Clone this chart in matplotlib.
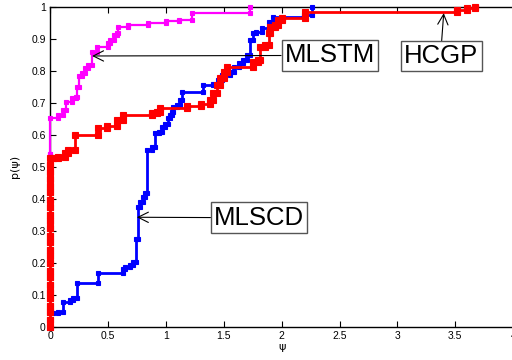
import matplotlib
matplotlib.use("Agg")
import matplotlib.pyplot as plt

# Step curves (x where the jump happens, level after the jump)
mlstm_x = [0, 0, 0.072, 0.115, 0.138, 0.193, 0.225, 0.23, 0.25, 0.274, 0.30,
           0.33, 0.36, 0.41, 0.50, 0.52, 0.55, 0.576, 0.59, 0.677, 0.85, 1.0,
           1.11, 1.225, 1.73]
mlstm_y = [0.54, 0.651, 0.66, 0.677, 0.703, 0.714, 0.719, 0.75, 0.783, 0.794,
           0.807, 0.818, 0.859, 0.875, 0.886, 0.896, 0.911, 0.917, 0.937, 0.944,
           0.95, 0.956, 0.96, 0.979, 1.0]

mlscd_x = [0.03, 0.07, 0.115, 0.173, 0.20, 0.236, 0.418, 0.634, 0.65, 0.69,
           0.715, 0.743, 0.763, 0.78, 0.80, 0.82, 0.836, 0.88, 0.91, 0.945,
           0.965, 0.994, 1.02, 1.035, 1.05, 1.06, 1.095, 1.12, 1.14, 1.325,
           1.41, 1.45, 1.485, 1.556, 1.585, 1.63, 1.67, 1.70, 1.73, 1.757,
           1.775, 1.83, 1.89, 1.93, 2.19, 2.26]
mlscd_y = [0.042, 0.047, 0.078, 0.083, 0.089, 0.136, 0.167, 0.179, 0.1875,
           0.193, 0.203, 0.273, 0.375, 0.39, 0.406, 0.417, 0.552, 0.5625,
           0.604, 0.609, 0.625, 0.635, 0.651, 0.661, 0.672, 0.6875, 0.693,
           0.708, 0.734, 0.755, 0.76, 0.77, 0.786, 0.797, 0.813, 0.823, 0.833,
           0.849, 0.896, 0.917, 0.922, 0.932, 0.953, 0.969, 0.975, 1.0]

hcgp_x = [0, 0, 0, 0, 0, 0, 0, 0, 0, 0, 0, 0, 0, 0, 0, 0, 0, 0, 0, 0, 0, 0,
          0, 0, 0, 0.03, 0.072, 0.13, 0.158, 0.216, 0.417, 0.49, 0.576, 0.634,
          0.88, 0.92, 0.95, 1.18, 1.30, 1.38, 1.41, 1.44, 1.47, 1.50, 1.527,
          1.757, 1.80, 1.815, 1.86, 1.89, 1.90, 1.945, 1.97, 2.0, 2.2, 3.515,
          3.6, 3.67]
hcgp_y = [0.0, 0.02, 0.045, 0.065, 0.09, 0.11, 0.13, 0.155, 0.175, 0.2, 0.22,
          0.24, 0.265, 0.285, 0.31, 0.33, 0.35, 0.375, 0.395, 0.42, 0.44, 0.46,
          0.485, 0.505, 0.526, 0.526, 0.531, 0.542, 0.552, 0.6, 0.62, 0.627,
          0.646, 0.661, 0.667, 0.672, 0.682, 0.69, 0.696, 0.708, 0.729, 0.755,
          0.776, 0.797, 0.813, 0.828, 0.833, 0.875, 0.88, 0.917, 0.937, 0.943,
          0.958, 0.964, 0.984, 0.99, 0.995, 1.0]

xticks = [0, 0.5, 1, 1.5, 2, 2.5, 3, 3.5, 4]
xtick_labels = ["0", "0.5", "1", "1.5", "2", "2.5", "3", "3.5", "4"]
yticks = [0, 0.1, 0.2, 0.3, 0.4, 0.5, 0.6, 0.7, 0.8, 0.9, 1]
ytick_labels = ["0", "0.1", "0.2", "0.3", "0.4", "0.5", "0.6", "0.7", "0.8", "0.9", "1"]

plt.rcParams["font.family"] = ["Liberation Sans", "DejaVu Sans"]

fig = plt.figure(figsize=(5.12, 3.6), dpi=100)
ax = fig.add_axes([50 / 512, 33.3 / 360, 463.2 / 512, 320 / 360])


def stair(xs, ys, color, lw, marker, ms, z):
    # line through the stairs, markers on both corners of every riser
    ax.plot(xs, ys, drawstyle="steps-post", color=color, lw=lw,
            clip_on=False, zorder=z)
    cx = [xs[0]]
    cy = [ys[0]]
    for i in range(1, len(xs)):
        cx += [xs[i], xs[i]]
        cy += [ys[i - 1], ys[i]]
    ax.plot(cx, cy, ls="none", color=color, marker=marker, ms=ms, mew=0.8,
            clip_on=False, zorder=z)


stair(mlstm_x, mlstm_y, "#ff00ff", 1.6, "s", 2.3, 3)
stair(mlscd_x, mlscd_y, "#0000ff", 2.0, "s", 2.8, 3.1)
stair(hcgp_x, hcgp_y, "#ff0000", 2.0, "s", 4.4, 3.2)

ax.set_xlim(0, 4)
ax.set_ylim(0, 1)
ax.set_xticks(xticks)
ax.set_xticklabels(xtick_labels)
ax.set_yticks(yticks)
ax.set_yticklabels(ytick_labels)
ax.tick_params(direction="in", length=4, width=0.8, labelsize=7.5,
               top=True, right=False, pad=3)
for s in ax.spines.values():
    s.set_linewidth(1.0)

ax.set_xlabel("ψ", fontsize=8, labelpad=1, family=["DejaVu Sans"])
ax.set_ylabel("p(ψ)", fontsize=8, labelpad=8, family=["DejaVu Sans"])

# Callout boxes
box = dict(boxstyle="square,pad=0.12", fc="white", ec="#555555", lw=1)
arrow = dict(arrowstyle="->", color="black", lw=0.8, shrinkA=0, shrinkB=0)
ax.annotate("MLSTM", xy=(0.363, 0.846), xytext=(2.416, 0.8475),
            fontsize=18.5, ha="center", va="center", bbox=box, zorder=4,
            arrowprops=dict(arrow, relpos=(0, 0.5)))
ax.annotate("HCGP", xy=(3.40, 0.98), xytext=(3.38, 0.845),
            fontsize=18.5, ha="center", va="center", bbox=box, zorder=4,
            arrowprops=dict(arrow, relpos=(0.5, 1)))
ax.annotate("MLSCD", xy=(0.75, 0.342), xytext=(1.806, 0.341),
            fontsize=18.5, ha="center", va="center", bbox=box, zorder=4,
            arrowprops=dict(arrow, relpos=(0, 0.5)))

fig.savefig("out.png", dpi=100)
